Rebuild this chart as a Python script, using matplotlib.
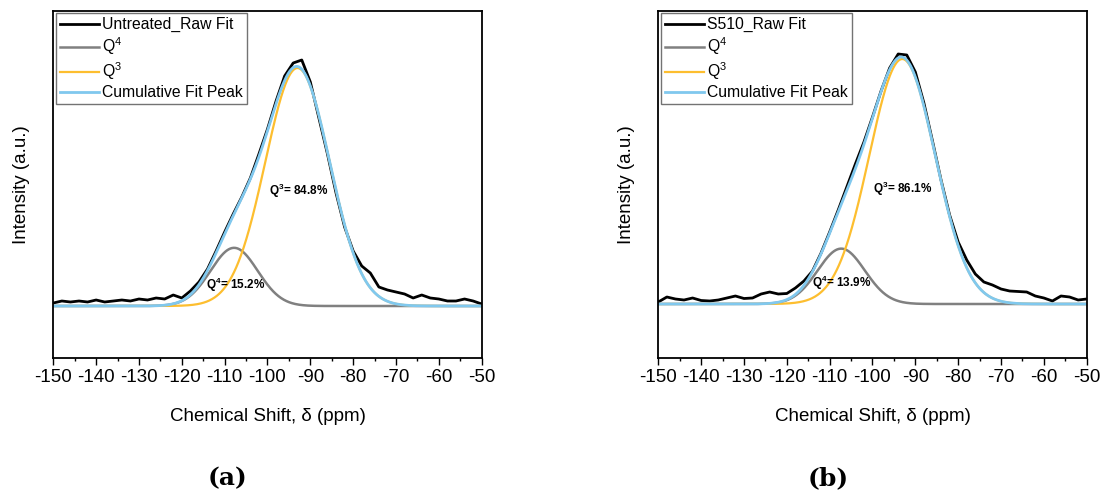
import numpy as np
import matplotlib
matplotlib.use("Agg")
import matplotlib.pyplot as plt

plt.rcParams["font.family"] = ["Liberation Sans", "DejaVu Sans"]
plt.rcParams["mathtext.fontset"] = "custom"
plt.rcParams["mathtext.rm"] = "Liberation Sans"
plt.rcParams["mathtext.bf"] = "Liberation Sans:bold"
plt.rcParams["axes.unicode_minus"] = False

# Chemical shift grid of the raw spectra (ppm)
shift = np.arange(-150, -49, 2)

# Raw 29Si spectra (a.u.), one value per grid point
raw_untreated = [3, 5, 4, 5, 4, 6, 4, 5, 6, 5,
                 7, 6, 8, 7, 11, 8, 15, 24, 37, 55,
                 74, 92, 109, 128, 152, 177, 205, 230, 243, 246,
                 224, 188, 152, 113, 79, 55, 40, 33, 19, 16,
                 14, 12, 8, 11, 8, 7, 5, 5, 7, 5,
                 2]
raw_s510 = [2, 7, 5, 4, 6, 3.5, 3, 4, 6, 8,
            5.5, 6, 10, 12, 10, 10.5, 16, 23, 33, 51,
            72, 94, 117, 140, 162, 187, 213, 236, 250, 249,
            232, 201, 163, 124, 89, 62, 44, 30, 22, 19,
            15, 13, 12.5, 12, 8, 6, 3, 8, 7, 4,
            5]

# Gaussian deconvolution: [Q4, Q3]
centers_untreated = [-107.8, -93.0]
sigmas_untreated = [5.5, 7.5]
percent_untreated = [15.2, 84.8]
area_untreated = 5276

centers_s510 = [-107.3, -93.05]
sigmas_s510 = [5.5, 7.7]
percent_s510 = [13.9, 86.1]
area_s510 = 5492

sample_names = ["Untreated", "S510"]
panel_tags = ["(a)", "(b)"]

fit_colors = {"raw": "#000000", "q4": "#808080", "q3": "#FDBE2F", "cum": "#80C8EE"}


def gaussian(x, center, sigma, area):
    return area / (sigma * np.sqrt(2 * np.pi)) * np.exp(-(x - center) ** 2 / (2 * sigma ** 2))


fig = plt.figure(figsize=(11.07, 4.95), dpi=100)
W, H = 1107, 495
ax_a = fig.add_axes([53.3 / W, (H - 357.7) / H, 428.4 / W, 346.7 / H])
ax_b = fig.add_axes([658.3 / W, (H - 357.7) / H, 428.4 / W, 346.7 / H])

panels = [
    (ax_a, raw_untreated, centers_untreated, sigmas_untreated, percent_untreated,
     area_untreated, (-51.7, 295), [(-107.4, 21), (-92.7, 115.3)]),
    (ax_b, raw_s510, centers_s510, sigmas_s510, percent_s510,
     area_s510, (-53.7, 293), [(-107.2, 20.7), (-93.0, 114.7)]),
]

x_fine = np.linspace(-150, -50, 800)

for i, (ax, raw, cen, sig, pct, area, ylim, label_pos) in enumerate(panels):
    q4 = gaussian(x_fine, cen[0], sig[0], area * pct[0] / 100)
    q3 = gaussian(x_fine, cen[1], sig[1], area * pct[1] / 100)
    ax.plot(shift, raw, color=fit_colors["raw"], lw=2.0, label=f"{sample_names[i]}_Raw Fit",
            solid_joinstyle="round")
    ax.plot(x_fine, q4, color=fit_colors["q4"], lw=1.8, label="Q$^4$")
    ax.plot(x_fine, q3, color=fit_colors["q3"], lw=1.6, label="Q$^3$")
    ax.plot(x_fine, q3 + q4, color=fit_colors["cum"], lw=2.0, label="Cumulative Fit Peak")

    ax.text(label_pos[0][0], label_pos[0][1], f"Q$^{{\\mathbf{{4}}}}$= {pct[0]}%",
            fontsize=8.5, fontweight="bold", ha="center", va="center")
    ax.text(label_pos[1][0], label_pos[1][1], f"Q$^{{\\mathbf{{3}}}}$= {pct[1]}%",
            fontsize=8.5, fontweight="bold", ha="center", va="center")

    ax.set_xlim(-150, -50)
    ax.set_ylim(*ylim)
    ax.set_xticks(np.arange(-150, -49, 10))
    ax.set_xticks(np.arange(-145, -50, 10), minor=True)
    ax.set_yticks([])
    ax.tick_params(axis="x", which="major", direction="out", length=5, width=1.0,
                   labelsize=13.5, pad=3, top=False)
    ax.tick_params(axis="x", which="minor", direction="out", length=2.5, width=1.0, top=False)
    for s in ax.spines.values():
        s.set_linewidth(1.3)

    ax.set_xlabel("Chemical Shift, \u03b4 (ppm)", fontsize=13.5)
    ax.xaxis.set_label_coords(0.5, -0.145)
    ax.set_ylabel("Intensity (a.u.)", fontsize=13.5)
    ax.yaxis.set_label_coords(-0.055, 0.5)

    leg = ax.legend(loc="upper left", fontsize=11.3, frameon=True, fancybox=False,
                    edgecolor="#505050", handlelength=2.5, handletextpad=0.2,
                    labelspacing=0.2, borderpad=0.25, borderaxespad=0.15)
    leg.get_frame().set_linewidth(1.0)

    fig.text((228 if i == 0 else 828) / W, 1 - 478 / H, panel_tags[i],
             fontsize=18, fontweight="bold", family="DejaVu Serif",
             ha="center", va="center")

fig.savefig("out.png", dpi=100)
